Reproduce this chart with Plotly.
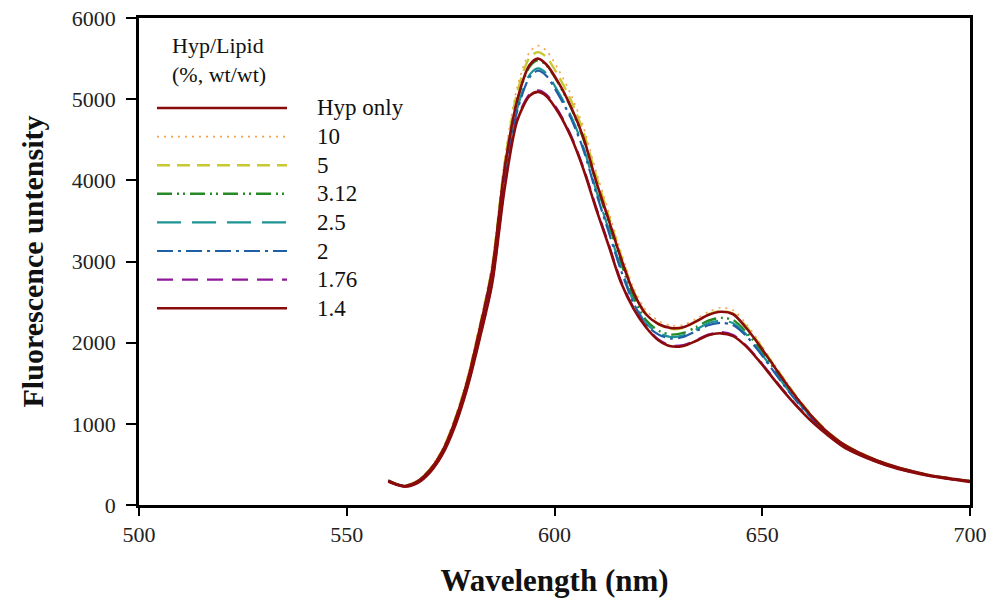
import plotly.graph_objects as go

# ---------------- data ----------------
wavelength = [560, 562, 564, 567, 570, 573, 576, 579, 582, 585, 588, 591, 594, 596, 598,
              601, 604, 607, 610, 613, 616, 619, 622, 625, 628, 631, 634, 637, 640, 643,
              646, 649, 652, 655, 658, 662, 666, 670, 675, 680, 685, 690, 695, 700]

hyp_only = [300, 255, 235, 290, 430, 660, 1030, 1520, 2170, 2900, 4150, 4980, 5420, 5500, 5430,
            5200, 4900, 4520, 3990, 3520, 3040, 2620, 2350, 2230, 2180, 2190, 2260, 2340, 2380, 2350,
            2190, 1990, 1770, 1550, 1340, 1090, 885, 735, 605, 505, 430, 370, 330, 295]
r10 = [305, 262, 240, 300, 450, 690, 1070, 1570, 2230, 2980, 4260, 5140, 5580, 5660, 5600,
       5360, 5050, 4650, 4110, 3620, 3120, 2680, 2400, 2270, 2210, 2220, 2290, 2380, 2430, 2400,
       2240, 2030, 1800, 1580, 1360, 1105, 895, 742, 612, 508, 435, 372, 332, 298]
r5 = [302, 258, 238, 295, 440, 675, 1050, 1545, 2200, 2940, 4210, 5080, 5510, 5580, 5520,
      5280, 4980, 4590, 4060, 3570, 3080, 2640, 2360, 2230, 2170, 2180, 2260, 2350, 2390, 2360,
      2210, 2010, 1785, 1565, 1350, 1098, 890, 740, 610, 506, 432, 370, 330, 296]
r312 = [300, 255, 235, 290, 430, 660, 1030, 1520, 2160, 2890, 4130, 4980, 5400, 5480, 5420,
        5190, 4890, 4500, 3970, 3480, 2990, 2560, 2280, 2150, 2100, 2120, 2190, 2270, 2305, 2280,
        2140, 1950, 1740, 1530, 1325, 1080, 880, 730, 602, 502, 428, 368, 328, 294]
r25 = [298, 254, 233, 287, 425, 650, 1015, 1500, 2130, 2850, 4060, 4880, 5300, 5380, 5320,
       5080, 4790, 4400, 3880, 3400, 2920, 2510, 2240, 2120, 2070, 2090, 2160, 2240, 2270, 2240,
       2110, 1920, 1710, 1500, 1305, 1070, 875, 725, 598, 498, 426, 366, 326, 292]
r2 = [297, 253, 232, 285, 420, 645, 1005, 1490, 2110, 2830, 4030, 4850, 5270, 5350, 5290,
      5050, 4760, 4370, 3850, 3370, 2890, 2490, 2220, 2100, 2050, 2070, 2140, 2215, 2245, 2215,
      2090, 1905, 1700, 1490, 1295, 1065, 870, 722, 595, 496, 424, 365, 325, 291]
r176 = [292, 251, 227, 273, 405, 625, 970, 1450, 2060, 2740, 3930, 4750, 5060, 5110, 5060,
        4850, 4550, 4150, 3670, 3220, 2760, 2435, 2200, 2040, 1965, 1970, 2030, 2100, 2130, 2095,
        1970, 1800, 1610, 1420, 1240, 1030, 855, 705, 585, 490, 417, 362, 322, 287]
r14 = [290, 250, 225, 270, 400, 620, 965, 1440, 2050, 2730, 3900, 4730, 5040, 5090, 5040,
       4830, 4530, 4130, 3650, 3200, 2740, 2420, 2190, 2030, 1955, 1960, 2020, 2090, 2115, 2080,
       1960, 1790, 1600, 1410, 1235, 1025, 850, 700, 582, 488, 415, 360, 320, 285]

series_names = ["Hyp only", "10", "5", "3.12", "2.5", "2", "1.76", "1.4"]
series_values = [hyp_only, r10, r5, r312, r25, r2, r176, r14]

x_ticks = [500, 550, 600, 650, 700]
y_ticks = [0, 1000, 2000, 3000, 4000, 5000, 6000]

# ---------------- styles ----------------
styles = {
    "Hyp only": dict(color="#8B0A0A", width=2.6, dash="solid"),
    "10": dict(color="#F5A04A", width=1.6, dash="2px,5px"),
    "5": dict(color="#C8C830", width=2.4, dash="13px,7px"),
    "3.12": dict(color="#268A26", width=2.4, dash="15px,5px,2px,4px,2px,5px"),
    "2.5": dict(color="#1C9494", width=2.2, dash="24px,11px"),
    "2": dict(color="#1F5FA6", width=2.2, dash="16px,5px,3px,5px"),
    "1.76": dict(color="#90189A", width=2.2, dash="16px,9px"),
    "1.4": dict(color="#8B0A0A", width=2.6, dash="solid"),
}
draw_order = ["10", "5", "3.12", "2.5", "2", "1.76", "1.4", "Hyp only"]

FONT = "Liberation Serif, Times New Roman, serif"

fig = go.Figure()
for name in draw_order:
    vals = series_values[series_names.index(name)]
    st = styles[name]
    fig.add_trace(go.Scatter(
        x=wavelength, y=vals, mode="lines", name=name, showlegend=False,
        line=dict(color=st["color"], width=st["width"], dash=st["dash"],
                  shape="spline", smoothing=0.8),
    ))

# ---------------- layout ----------------
W, H = 991, 599
ml, mr, mt, mb = 139, 21, 18, 94
pw, ph = W - ml - mr, H - mt - mb


def px_x(px):
    return (px - ml) / pw


def px_y(py):
    return (H - mb - py) / ph


# custom legend (long line keys like the original)
shapes = []
annotations = []
row0, row_gap = 108, 28.6
for i, name in enumerate(series_names):
    st = styles[name]
    yy = px_y(row0 + i * row_gap)
    shapes.append(dict(type="line", xref="paper", yref="paper",
                       x0=px_x(157), x1=px_x(287), y0=yy, y1=yy,
                       line=dict(color=st["color"], width=st["width"], dash=st["dash"])))
    annotations.append(dict(xref="paper", yref="paper", x=px_x(315), y=yy,
                            xanchor="left", yanchor="middle", showarrow=False,
                            text=name, font=dict(family=FONT, size=23, color="#111")))
annotations.append(dict(xref="paper", yref="paper", x=px_x(170), y=px_y(60),
                        xanchor="left", yanchor="middle", showarrow=False, align="left",
                        text="Hyp/Lipid<br>(%, wt/wt)",
                        font=dict(family=FONT, size=22, color="#111")))

fig.update_layout(
    width=W, height=H,
    margin=dict(l=ml, r=mr, t=mt, b=mb, pad=0, autoexpand=False),
    paper_bgcolor="white", plot_bgcolor="white",
    shapes=shapes, annotations=annotations,
    showlegend=False,
    xaxis=dict(range=[500, 700], tickvals=x_ticks, ticktext=[str(v) for v in x_ticks],
               automargin=False,
               showgrid=False, zeroline=False, showline=True, linecolor="black", linewidth=2.5,
               mirror=True, ticks="outside", ticklen=8, tickwidth=1.5, tickcolor="black",
               tickfont=dict(family=FONT, size=22, color="#222"),
               title=dict(text="<b>Wavelength (nm)</b>", standoff=24,
                          font=dict(family=FONT, size=31, color="#111"))),
    yaxis=dict(range=[0, 6000], tickvals=y_ticks, ticktext=[str(v) for v in y_ticks],
               automargin=False,
               showgrid=False, zeroline=False, showline=True, linecolor="black", linewidth=2.5,
               mirror=True, ticks="outside", ticklen=10, tickwidth=1.5, tickcolor="black",
               ticklabelstandoff=6,
               tickfont=dict(family=FONT, size=22, color="#222"),
               title=dict(text="<b>Fluorescence untensity</b>", standoff=20,
                          font=dict(family=FONT, size=30, color="#111"))),
)

fig.write_html("out.html")
